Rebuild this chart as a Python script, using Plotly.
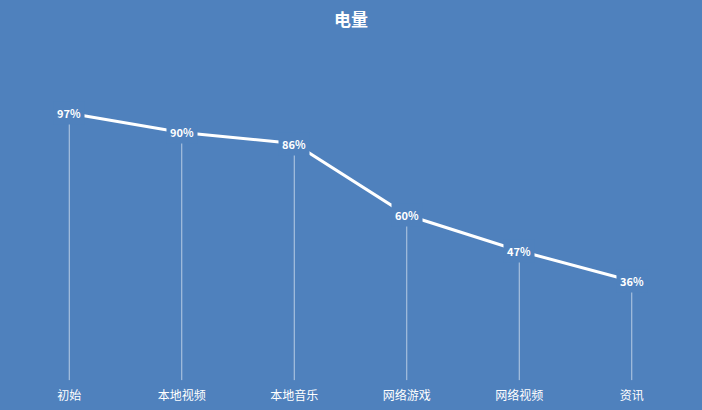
import plotly.graph_objects as go

categories = ["初始", "本地视频", "本地音乐", "网络游戏", "网络视频", "资讯"]
battery = [97, 90, 86, 60, 47, 36]
labels = [f"{v}%" for v in battery]

BG = "#4F81BD"
FONT = "Noto Sans CJK SC, Microsoft YaHei, sans-serif"

fig = go.Figure()
fig.add_trace(go.Scatter(
    x=categories, y=battery, mode="lines",
    line=dict(color="white", width=3),
    error_y=dict(type="data", symmetric=False, array=[0] * len(battery),
                 arrayminus=battery, color="rgba(255,255,255,0.6)",
                 thickness=1, width=0),
    hoverinfo="skip", showlegend=False,
))

for c, v, t in zip(categories, battery, labels):
    fig.add_annotation(x=c, y=v, text=f"<b>{t}</b>", showarrow=False,
                       bgcolor=BG, borderpad=3,
                       font=dict(color="white", size=11, family=FONT))

fig.update_layout(
    width=702, height=410,
    paper_bgcolor=BG, plot_bgcolor=BG,
    margin=dict(l=13, r=14, t=56, b=23, autoexpand=False),
    title=dict(text="<b>电量</b>", x=0.5, xanchor="center", y=0.95, yanchor="middle",
               font=dict(color="white", size=17, family=FONT)),
    font=dict(family=FONT, color="white"),
    xaxis=dict(type="category", range=[-0.5, 5.5], showgrid=False, zeroline=False,
               showline=False, ticks="", automargin=False,
               tickfont=dict(size=12, color="white", family=FONT)),
    yaxis=dict(range=[-2.5, 117.8], visible=False, showgrid=False, zeroline=False,
               automargin=False),
)

fig.write_html(
    "out.html",
    config={"displayModeBar": False},
    post_script="document.body.style.margin='0';document.body.style.overflow='hidden';",
)
